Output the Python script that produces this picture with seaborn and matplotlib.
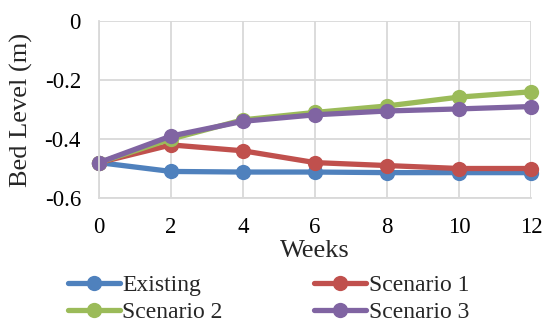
import matplotlib
matplotlib.use("Agg")
import matplotlib.pyplot as plt
import seaborn as sns
import pandas as pd

weeks = [0, 2, 4, 6, 8, 10, 12]
existing = [-0.48, -0.51, -0.512, -0.512, -0.514, -0.514, -0.514]
scenario1 = [-0.48, -0.42, -0.44, -0.48, -0.49, -0.50, -0.50]
scenario2 = [-0.48, -0.40, -0.335, -0.31, -0.288, -0.258, -0.24]
scenario3 = [-0.48, -0.39, -0.34, -0.318, -0.305, -0.298, -0.29]
series_names = ["Existing", "Scenario 1", "Scenario 2", "Scenario 3"]
colors = ["#4F81BD", "#C0504D", "#9BBB59", "#8064A2"]

df = pd.DataFrame({
    "Weeks": weeks * 4,
    "Bed Level": existing + scenario1 + scenario2 + scenario3,
    "Series": sum([[n] * len(weeks) for n in series_names], []),
})

sns.set_theme(style="white")
plt.rcParams["font.family"] = ["Liberation Serif", "DejaVu Serif"]

fig = plt.figure(figsize=(5.45, 3.25), dpi=100)
ax = fig.add_axes([99 / 545, 1 - 198 / 325, (531 - 99) / 545, (198 - 21) / 325])

sns.lineplot(data=df, x="Weeks", y="Bed Level", hue="Series",
             palette=colors, hue_order=series_names, marker="o",
             markersize=11, markeredgewidth=0, linewidth=3.8,
             ax=ax, legend=True)

ax.set_xlim(0, 12)
ax.set_ylim(-0.6, 0)
ax.set_xticks(weeks)
ax.set_yticks([-0.6, -0.4, -0.2, 0])
ax.set_yticklabels(["-0.6", "-0.4", "-0.2", "0"])
ax.grid(True, color="#D9D9D9", linewidth=1.3)
ax.set_axisbelow(True)
for side in ["top", "right"]:
    ax.spines[side].set_visible(False)
for side in ["left", "bottom"]:
    ax.spines[side].set_color("#D9D9D9")
    ax.spines[side].set_linewidth(1.3)
for line in ax.lines:
    line.set_clip_on(False)

ax.tick_params(axis="both", labelsize=16.5, colors="black", length=0)
ax.tick_params(axis="y", pad=13)
ax.tick_params(axis="x", pad=14)
ax.set_xlabel("Weeks", fontsize=19, labelpad=1)
ax.set_ylabel("Bed Level (m)", fontsize=19, labelpad=8)

# order entries so that each legend row holds two series
handles, labels = ax.get_legend_handles_labels()
lookup = dict(zip(labels, handles))
order = ["Existing", "Scenario 2", "Scenario 1", "Scenario 3"]
ax.legend([lookup[n] for n in order], order, ncol=2, loc="upper center",
          bbox_to_anchor=(0.5 - 4 / 545, 1 - 265 / 325), bbox_transform=fig.transFigure,
          frameon=False, fontsize=17, handlelength=2.2, handletextpad=0.1,
          columnspacing=3.9, labelspacing=0.25, borderaxespad=0)

fig.savefig("out.png", dpi=100)
